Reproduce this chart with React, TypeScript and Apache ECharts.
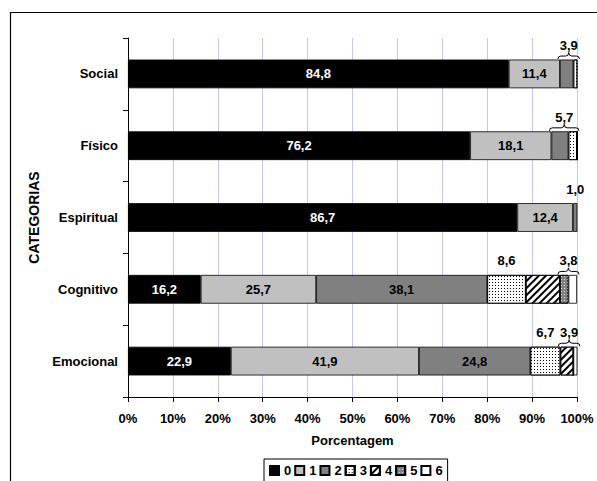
import React, { useEffect, useRef } from 'react';
import * as echarts from 'echarts';

const categories = ['Social', 'Físico', 'Espiritual', 'Cognitivo', 'Emocional'];
const seriesNames = ['0', '1', '2', '3', '4', '5', '6'];
const s0 = [84.8, 76.2, 86.7, 16.2, 22.9];
const s1 = [11.4, 18.1, 12.4, 25.7, 41.9];
const s2 = [3.0, 3.8, 1.0, 38.1, 24.8];
const s3 = [0.9, 1.9, 0, 8.6, 6.7];
const s4 = [0, 0, 0, 7.6, 2.9];
const s5 = [0, 0, 0, 1.9, 0];
const s6 = [0, 0, 0, 1.9, 1.0];
const seriesValues = [s0, s1, s2, s3, s4, s5, s6];

// outside labels: category index, first and last segment summed, brace or not
const annotations = [
  { cat: 0, from: 2, to: 3, brace: true },
  { cat: 1, from: 2, to: 3, brace: true },
  { cat: 2, from: 2, to: 2, brace: false },
  { cat: 3, from: 3, to: 3, brace: false },
  { cat: 3, from: 5, to: 6, brace: true },
  { cat: 4, from: 3, to: 3, brace: false },
  { cat: 4, from: 4, to: 6, brace: true },
];

const fmt = (v: number) => v.toFixed(1).replace('.', ',');
const FONT = '"Liberation Sans", Arial, sans-serif';
const FS = 13;

export default function App() {
  const ref = useRef<HTMLDivElement>(null);
  useEffect(() => {
    document.body.style.margin = '0';
    const chart = echarts.init(ref.current!, null, { renderer: 'svg' });

    const styles: any[] = [
      { color: '#000000' },
      { color: '#c0c0c0' },
      { color: '#808080' },
      {
        color: '#ffffff',
        decal: { symbol: 'rect', symbolSize: 1, color: '#000', dashArrayX: [1, 1.6], dashArrayY: [1, 1.6], rotation: 0 },
      },
      {
        color: '#ffffff',
        decal: { symbol: 'rect', symbolSize: 1, color: '#000', dashArrayX: [1, 0], dashArrayY: [1.3, 2.2], rotation: -Math.PI / 4 },
      },
      {
        color: '#808080',
        decal: { symbol: 'rect', symbolSize: 1, color: '#e0e0e0', dashArrayX: [1, 2], dashArrayY: [1, 2], rotation: 0 },
      },
      { color: '#ffffff' },
    ];

    const barSeries = seriesNames.map((name, i) => ({
      name,
      type: 'bar',
      stack: 'total',
      barWidth: '40%',
      data: seriesValues[i],
      itemStyle: { ...styles[i], borderColor: '#000', borderWidth: 0.8 },
      label: {
        show: i <= 2,
        position: 'inside',
        fontFamily: FONT,
        fontWeight: 'bold',
        fontSize: FS,
        color: i === 0 ? '#fff' : '#000',
        formatter: (p: any) => (p.value >= 5 ? fmt(p.value) : ''),
      },
      emphasis: { disabled: true },
    }));

    const annData = annotations.map((a) => {
      const before = seriesValues.slice(0, a.from).reduce((s, arr) => s + arr[a.cat], 0);
      const span = seriesValues.slice(a.from, a.to + 1).reduce((s, arr) => s + arr[a.cat], 0);
      return [before, a.cat, before + span, span];
    });

    const option: any = {
      animation: false,
      textStyle: { fontFamily: FONT },
      graphic: [
        {
          type: 'rect',
          shape: { x: 10.5, y: 12.5, width: 620, height: 520 },
          style: { fill: 'none', stroke: '#000', lineWidth: 1.2 },
          silent: true,
        },
      ],
      grid: { left: 128, right: 20, top: 38, bottom: 84 },
      legend: {
        data: seriesNames,
        left: 264,
        top: 459,
        orient: 'horizontal',
        borderColor: '#000',
        borderWidth: 1,
        borderRadius: 0,
        padding: [5, 5, 10, 5],
        itemWidth: 9,
        itemHeight: 9,
        itemGap: 3,
        icon: 'rect',
        textStyle: { fontFamily: FONT, fontWeight: 'bold', fontSize: FS, color: '#000' },
        selectedMode: false,
      },
      xAxis: {
        type: 'value',
        min: 0,
        max: 100,
        interval: 10,
        name: 'Porcentagem',
        nameLocation: 'middle',
        nameGap: 37,
        nameTextStyle: { fontFamily: FONT, fontWeight: 'bold', fontSize: FS, color: '#000' },
        axisLine: { show: true, lineStyle: { color: '#000', width: 1 } },
        axisTick: { show: true, length: 5, lineStyle: { color: '#000' } },
        axisLabel: { formatter: '{value}%', margin: 15, fontFamily: FONT, fontWeight: 'bold', fontSize: FS, color: '#000' },
        splitLine: { show: true, lineStyle: { color: '#c4c4ff', width: 1 } },
      },
      yAxis: {
        type: 'category',
        inverse: true,
        data: categories,
        name: 'CATEGORIAS',
        nameLocation: 'middle',
        nameGap: 86,
        nameTextStyle: { fontFamily: FONT, fontWeight: 'bold', fontSize: 14, color: '#000' },
        axisLine: { show: true, lineStyle: { color: '#000', width: 1 } },
        axisTick: { show: true, length: 5, alignWithLabel: false, lineStyle: { color: '#000' } },
        axisLabel: { margin: 10, fontFamily: FONT, fontWeight: 'bold', fontSize: FS, color: '#000' },
        splitLine: { show: false },
      },
      series: [
        ...barSeries,
        {
          type: 'custom',
          name: 'annotations',
          coordinateSystem: 'cartesian2d',
          encode: { x: [0, 2], y: 1 },
          data: annData,
          z: 10,
          silent: true,
          renderItem: (params: any, api: any) => {
            const a = annotations[params.dataIndex];
            const start = api.value(0);
            const cat = api.value(1);
            const end = api.value(2);
            const span = api.value(3);
            const p0 = api.coord([start, cat]);
            const p1 = api.coord([end, cat]);
            const band = api.size([0, 1])[1];
            const top = p0[1] - (band * 0.4) / 2;
            const xm = (p0[0] + p1[0]) / 2;
            const children: any[] = [];
            if (a.brace) {
              const l = p0[0] - 2;
              const r = p1[0] + 2;
              const yb = top - 0.5;
              const yh = top - 3.5;
              const yt = top - 7;
              const d = `M${l},${yb} Q${l},${yh} ${l + 3},${yh} L${xm - 3},${yh} Q${xm},${yh} ${xm},${yt} Q${xm},${yh} ${xm + 3},${yh} L${r - 3},${yh} Q${r},${yh} ${r},${yb}`;
              children.push({
                type: 'path',
                shape: { pathData: d },
                style: { fill: 'none', stroke: '#000', lineWidth: 1 },
              });
            }
            children.push({
              type: 'text',
              x: xm,
              y: top - 14,
              style: {
                text: fmt(span),
                fontFamily: FONT,
                fontWeight: 'bold',
                fontSize: FS,
                fill: '#000',
                align: 'center',
                verticalAlign: 'middle',
              },
            });
            return { type: 'group', children };
          },
        },
      ],
    };
    chart.setOption(option);
    return () => chart.dispose();
  }, []);
  return <div ref={ref} style={{ width: 597, height: 481 }} />;
}
